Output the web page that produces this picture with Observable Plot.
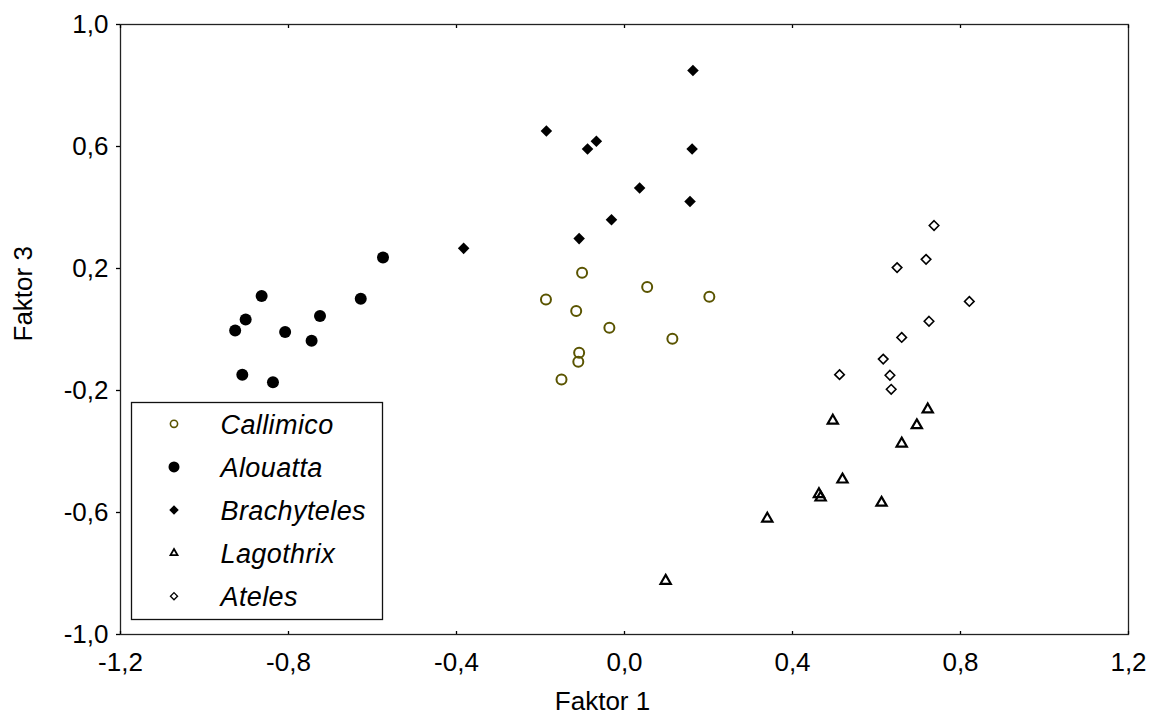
<!DOCTYPE html>
<html>
<head>
<meta charset="utf-8">
<script src="https://cdn.jsdelivr.net/npm/d3@7"></script>
<script src="https://cdn.jsdelivr.net/npm/@observablehq/plot@0.6"></script>
<style>
  html, body { margin: 0; padding: 0; background: #fff; }
  #wrap { position: relative; width: 1155px; height: 723px; font-family: "Liberation Sans", Arial, sans-serif; }
  #legend { position: absolute; left: 0; top: 0; pointer-events: none; }
</style>
</head>
<body>
<div id="wrap"></div>
<script>
// ---- data ----
const species = ["Callimico", "Alouatta", "Brachyteles", "Lagothrix", "Ateles"];

const callimicoX = [-0.187, -0.150, -0.115, -0.110, -0.108, -0.101, -0.036, 0.054, 0.114, 0.202];
const callimicoY = [0.098, -0.164, 0.061, -0.106, -0.076, 0.186, 0.006, 0.139, -0.030, 0.107];

const alouattaX = [-0.927, -0.910, -0.902, -0.864, -0.837, -0.808, -0.745, -0.725, -0.628, -0.575];
const alouattaY = [-0.003, -0.148, 0.033, 0.110, -0.173, -0.008, -0.037, 0.044, 0.101, 0.236];

const brachytelesX = [-0.383, -0.186, -0.108, -0.088, -0.067, -0.031, 0.036, 0.156, 0.161, 0.163];
const brachytelesY = [0.266, 0.651, 0.298, 0.592, 0.617, 0.360, 0.464, 0.420, 0.592, 0.849];

const lagothrixX = [0.098, 0.340, 0.463, 0.467, 0.496, 0.519, 0.612, 0.660, 0.696, 0.722];
const lagothrixY = [-0.824, -0.620, -0.540, -0.551, -0.299, -0.492, -0.568, -0.374, -0.314, -0.262];

const atelesX = [0.512, 0.616, 0.632, 0.635, 0.649, 0.660, 0.718, 0.725, 0.737, 0.821];
const atelesY = [-0.148, -0.097, -0.150, -0.196, 0.203, -0.026, 0.230, 0.027, 0.341, 0.092];

const xTicks = [-1.2, -0.8, -0.4, 0.0, 0.4, 0.8, 1.2];
const yTicks = [-1.0, -0.6, -0.2, 0.2, 0.6, 1.0];
const xTitle = "Faktor 1";
const yTitle = "Faktor 3";

// ---- build ----
const olive = "#5a5400";
const toRows = (xs, ys, s) => xs.map((x, i) => ({x, y: ys[i], s}));
const fmt = d => d.toFixed(1).replace(".", ",");

const styles = {
  Callimico:   {symbol: "circle",   r: 5,   fill: "none",  stroke: olive,  strokeWidth: 2},
  Alouatta:    {symbol: "circle",   r: 6,   fill: "#000",  stroke: "none", strokeWidth: 0},
  Brachyteles: {symbol: "diamond2", r: 5.2, fill: "#000",  stroke: "none", strokeWidth: 0},
  Lagothrix:   {symbol: "triangle", r: 3.8, fill: "none",  stroke: "#000", strokeWidth: 2.2},
  Ateles:      {symbol: "diamond2", r: 4.3, fill: "none",  stroke: "#000", strokeWidth: 1.6}
};
const dataBy = {
  Callimico: toRows(callimicoX, callimicoY, "Callimico"),
  Alouatta: toRows(alouattaX, alouattaY, "Alouatta"),
  Brachyteles: toRows(brachytelesX, brachytelesY, "Brachyteles"),
  Lagothrix: toRows(lagothrixX, lagothrixY, "Lagothrix"),
  Ateles: toRows(atelesX, atelesY, "Ateles")
};

const plot = Plot.plot({
  width: 1155,
  height: 723,
  marginLeft: 120,
  marginRight: 27,
  marginTop: 24,
  marginBottom: 89,
  style: {fontFamily: "'Liberation Sans', Arial, sans-serif", fontSize: "26px", color: "#000", background: "#fff", overflow: "visible"},
  x: {domain: [-1.2, 1.2]},
  y: {domain: [-1, 1]},
  marks: [
    Plot.frame({stroke: "#222", strokeWidth: 1.3}),
    Plot.axisX(xTicks, {anchor: "bottom", tickSize: -3, tickPadding: 21, tickFormat: fmt, label: null, strokeWidth: 1.3}),
    Plot.axisX(xTicks, {anchor: "top", tickSize: -3, tickFormat: () => "", label: null, strokeWidth: 1.3}),
    Plot.axisY(yTicks, {anchor: "left", tickSize: 4, tickPadding: 8, tickFormat: fmt, label: null, strokeWidth: 1.3}),
    Plot.text([xTitle], {frameAnchor: "bottom", dx: -22, dy: 75, fontSize: 26, fill: "#000"}),
    Plot.text([yTitle], {frameAnchor: "left", rotate: -90, dx: -97, dy: 12, fontSize: 26, fill: "#000"}),
    ...species.map(s => Plot.dot(dataBy[s], {x: "x", y: "y", ...styles[s]}))
  ]
});
const wrap = document.getElementById("wrap");
wrap.appendChild(plot);

// ---- legend (overlay) ----
const legendSym = {
  Callimico:   {symbol: d3.symbolCircle,   r: 3.6, fill: "none", stroke: olive,  sw: 1.6},
  Alouatta:    {symbol: d3.symbolCircle,   r: 5.5, fill: "#000", stroke: "none", sw: 0},
  Brachyteles: {symbol: d3.symbolDiamond2, r: 4.3, fill: "#000", stroke: "none", sw: 0},
  Lagothrix:   {symbol: d3.symbolTriangle, r: 2.6, fill: "none", stroke: "#000", sw: 1.8},
  Ateles:      {symbol: d3.symbolDiamond2, r: 3.2, fill: "none", stroke: "#000", sw: 1.3}
};
const lg = d3.select(wrap).append("svg")
  .attr("id", "legend").attr("width", 1155).attr("height", 723);
const box = {x: 131.5, y: 402.5, w: 251, h: 217};
lg.append("rect").attr("x", box.x).attr("y", box.y).attr("width", box.w).attr("height", box.h)
  .attr("fill", "#fff").attr("stroke", "#111").attr("stroke-width", 1.3);
species.forEach((s, i) => {
  const cy = box.y + 21.3 + i * 43.1;
  const st = legendSym[s];
  lg.append("path")
    .attr("d", d3.symbol(st.symbol, Math.PI * st.r * st.r)())
    .attr("transform", `translate(${box.x + 42.5},${cy})`)
    .attr("fill", st.fill).attr("stroke", st.stroke).attr("stroke-width", st.sw);
  lg.append("text")
    .attr("x", box.x + 89).attr("y", cy + 9.8)
    .attr("font-family", "'Liberation Sans', Arial, sans-serif")
    .attr("font-style", "italic").attr("font-size", 27).attr("letter-spacing", 0.4)
    .attr("fill", "#000")
    .text(s);
});
</script>
</body>
</html>
